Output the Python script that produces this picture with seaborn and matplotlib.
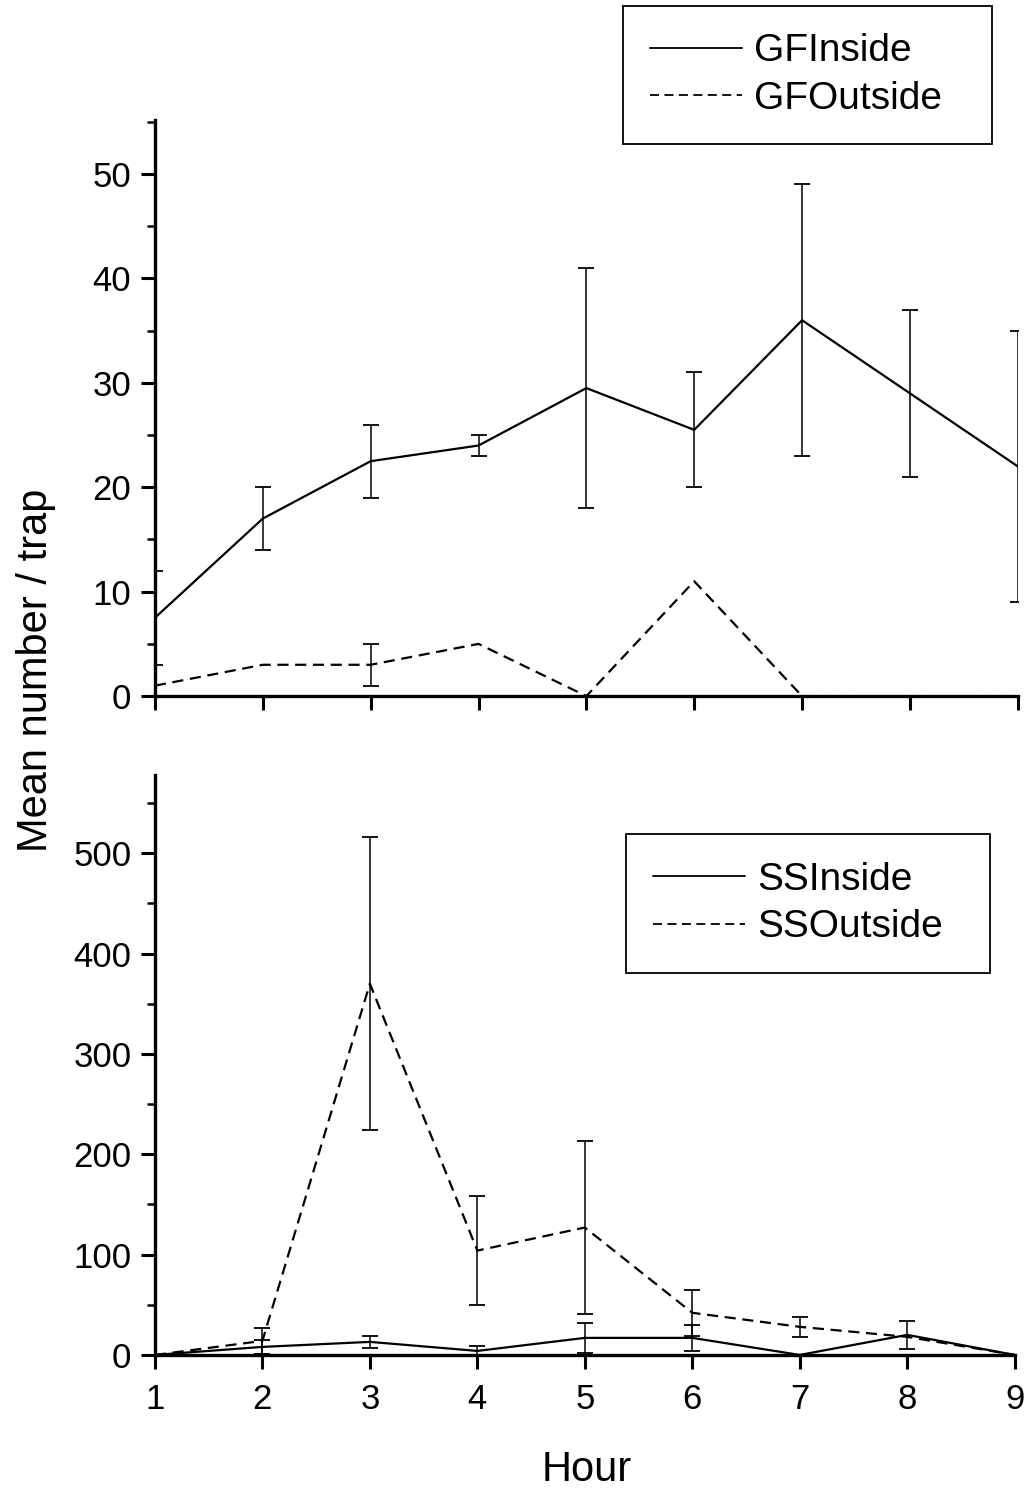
import numpy as np
import pandas as pd
import matplotlib
matplotlib.use("Agg")
import matplotlib.pyplot as plt
import seaborn as sns
from matplotlib.ticker import MultipleLocator

hours = [1, 2, 3, 4, 5, 6, 7, 8, 9]

gf_inside = [7.5, 17, 22.5, 24, 29.5, 25.5, 36, 29, 22]
gf_inside_err = [4.5, 3, 3.5, 1, 11.5, 5.5, 13, 8, 13]
gf_outside = [1, 3, 3, 5, 0, 11, 0, 0, 0]
gf_outside_err = [0, 0, 2, 0, 0, 0, 0, 0, 0]

ss_inside = [0, 8, 13, 4, 17, 17, 0, 20, 0]
ss_inside_err = [0, 7, 6, 5, 15, 13, 0, 14, 0]
ss_outside = [0, 14, 370, 104, 127, 42, 28, 18, 0]
ss_outside_err = [0, 13, 146, 54, 86, 23, 10, 0, 0]

sns.set_style("ticks")
plt.rcParams["font.family"] = ["Liberation Sans", "DejaVu Sans"]
plt.rcParams.update({
    "axes.linewidth": 2.4,
    "axes.edgecolor": "black",
    "text.color": "black",
    "xtick.color": "black",
    "ytick.color": "black",
    "axes.labelcolor": "black",
})

fig = plt.figure(figsize=(10.26, 14.97), dpi=100)
ax_top = fig.add_axes([0.151, 0.535, 0.841, 0.385])
ax_bot = fig.add_axes([0.151, 0.0949, 0.838, 0.3874])

DASH = (5, 3)


def draw_series(ax, y, err, label, dashed):
    df = pd.DataFrame({"Hour": hours, "val": y})
    kw = dict(color="black", linewidth=1.6, label=label)
    if dashed:
        kw["dashes"] = DASH
    sns.lineplot(data=df, x="Hour", y="val", ax=ax, **kw)
    err = np.array(err, dtype=float)
    m = err > 0
    ax.errorbar(np.array(hours)[m], np.array(y, dtype=float)[m], yerr=err[m],
                fmt="none", ecolor="black", elinewidth=1.1, capsize=6,
                capthick=1.3)


draw_series(ax_top, gf_inside, gf_inside_err, "GFInside", False)
draw_series(ax_top, gf_outside, gf_outside_err, "GFOutside", True)
draw_series(ax_bot, ss_inside, ss_inside_err, "SSInside", False)
draw_series(ax_bot, ss_outside, ss_outside_err, "SSOutside", True)

for ax, ymax, major, minor in [(ax_top, 55.2, 10, 5), (ax_bot, 578, 100, 50)]:
    ax.set_xlim(1, 9)
    ax.set_ylim(0, ymax)
    ax.xaxis.set_major_locator(MultipleLocator(1))
    ax.yaxis.set_major_locator(MultipleLocator(major))
    ax.yaxis.set_minor_locator(MultipleLocator(minor))
    sns.despine(ax=ax)
    ax.tick_params(axis="both", which="major", length=10, width=2.2,
                   labelsize=25, direction="out")
    ax.tick_params(axis="y", which="minor", length=6, width=1.8, direction="out")
    ax.tick_params(axis="y", which="major", pad=7)
    ax.tick_params(axis="x", which="major", pad=10)
    ax.set_xlabel("")
    ax.set_ylabel("")

ax_top.tick_params(axis="x", labelbottom=False)

leg_kw = dict(loc="center left", mode="expand", bbox_transform=fig.transFigure,
              borderaxespad=0, fontsize=28, handlelength=2.37, handletextpad=0.3,
              borderpad=0.7, labelspacing=0.3, fancybox=False, framealpha=1,
              edgecolor="black")
leg1 = ax_top.legend(bbox_to_anchor=(0.607, 0.903, 0.360, 0.0935), **leg_kw)
leg2 = ax_bot.legend(bbox_to_anchor=(0.610, 0.349, 0.355, 0.0949), **leg_kw)
for leg in (leg1, leg2):
    leg.get_frame().set_linewidth(1.3)
    for h in leg.get_lines():
        h.set_linewidth(1.3)

fig.text(0.035, 0.552, "Mean number / trap", rotation=90, ha="center",
         va="center", fontsize=30)
fig.text(0.572, 0.018, "Hour", ha="center", va="center", fontsize=30)

fig.savefig("out.png", dpi=100)
